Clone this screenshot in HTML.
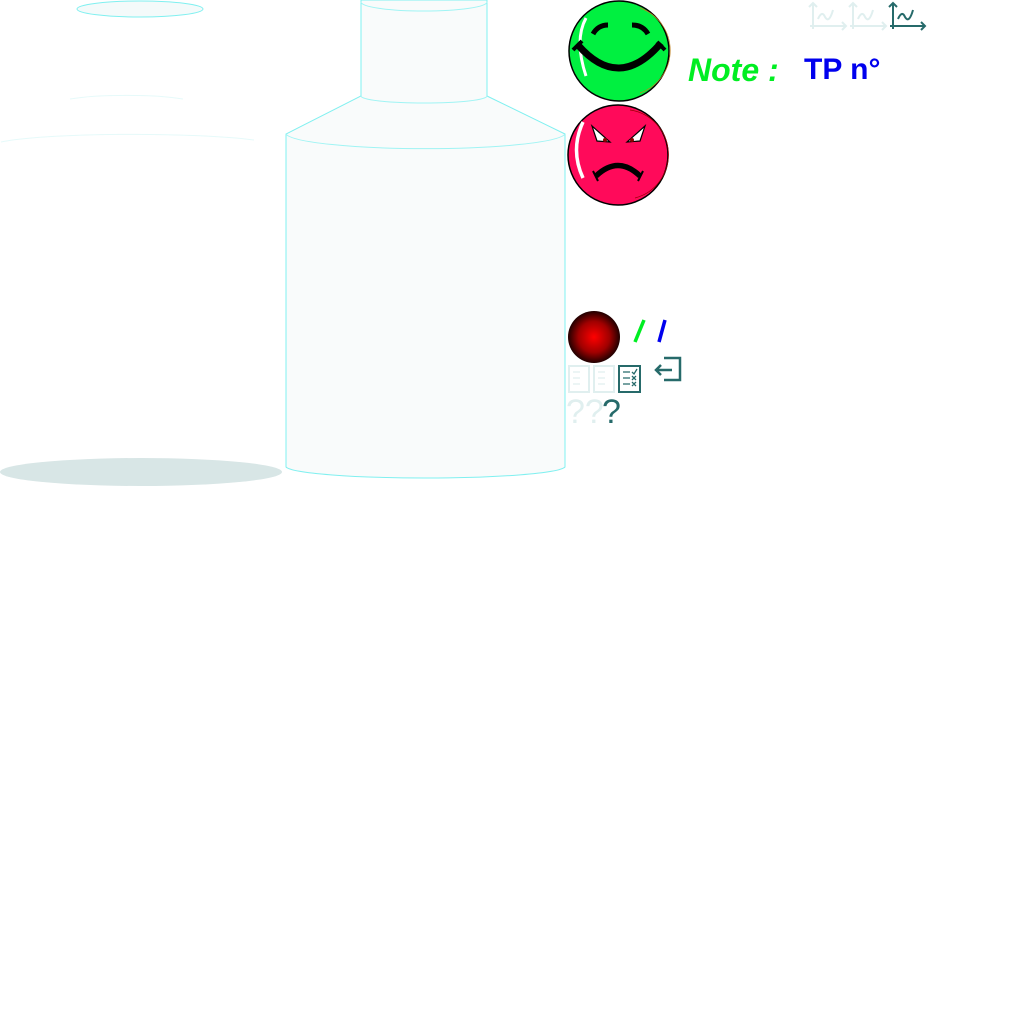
<!DOCTYPE html>
<html><head><meta charset="utf-8"><style>
html,body{margin:0;padding:0;background:#fff;width:1024px;height:1024px;overflow:hidden}
svg{position:absolute;left:0;top:0}
</style></head><body>
<svg width="1024" height="1024" viewBox="0 0 1024 1024" xmlns="http://www.w3.org/2000/svg">
<defs>
<radialGradient id="rb" cx="0.5" cy="0.5" r="0.5">
<stop offset="0" stop-color="#ff0000"/><stop offset="0.6" stop-color="#a00000"/><stop offset="1" stop-color="#200000"/>
</radialGradient>
</defs>
<ellipse cx="140" cy="9" rx="63" ry="8" fill="#f4fafa" stroke="#80f0f0" stroke-width="1"/>
<path d="M70 99 A70 9 0 0 1 183 99" fill="none" stroke="#e6fafa" stroke-width="1"/>
<path d="M1 142 A142 12 0 0 1 254 140" fill="none" stroke="#e6fafa" stroke-width="1"/>
<ellipse cx="141" cy="472" rx="141" ry="14" fill="#d8e6e6"/>
<path d="M361 0 L361 96 L286 134 L286 467 A140 12 0 0 0 565 467 L565 134 L487 96 L487 0 Z" fill="#f9fbfb" stroke="#80f0f0" stroke-width="1"/>
<path d="M361 2 A63 9 0 0 0 487 2" fill="none" stroke="#a0f4f4"/>
<path d="M361 96 A63 7 0 0 0 487 96" fill="none" stroke="#a0f4f4"/>
<path d="M286 134 A140 16 0 0 0 565 134" fill="none" stroke="#a0f4f4"/>
<!-- green smiley -->
<circle cx="619" cy="51" r="50" fill="#00f040" stroke="#000" stroke-width="1.5"/>
<path d="M640 8 A45 45 0 0 1 640 93" fill="none" stroke="#c08020" stroke-width="0.7"/>
<path d="M586 18 Q574 40 586 76" fill="none" stroke="#fff" stroke-width="3"/>
<path d="M578 45 Q619 92 661 43" fill="none" stroke="#000" stroke-width="7"/>
<path d="M573 50 L582 41 M657 42 L665 50" stroke="#000" stroke-width="4"/>
<path d="M593 34 Q598 25 608 25" fill="none" stroke="#000" stroke-width="5"/>
<path d="M632 25 Q643 25 648 34" fill="none" stroke="#000" stroke-width="5"/>
<!-- red smiley -->
<circle cx="618" cy="155" r="50" fill="#ff0a5a" stroke="#000" stroke-width="1.5"/>
<path d="M630 110 A45 45 0 0 1 635 198" fill="none" stroke="#900" stroke-width="0.7"/>
<path d="M583 122 Q570 150 583 178" fill="none" stroke="#fff" stroke-width="3.5"/>
<path d="M592 126 L610 142 L597 141 Z" fill="#fff" stroke="#000" stroke-width="1.2"/>
<path d="M645 126 L627 142 L640 141 Z" fill="#fff" stroke="#000" stroke-width="1.2"/>
<circle cx="605" cy="140" r="2" fill="#800"/><circle cx="632" cy="140" r="2" fill="#800"/>
<path d="M596 176 Q618 155 640 176" fill="none" stroke="#000" stroke-width="5.5"/>
<path d="M593 171 L598 181 M643 171 L638 181" stroke="#000" stroke-width="2"/>
<text x="688" y="81" font-family="Liberation Sans, sans-serif" font-size="32" font-weight="bold" font-style="italic" fill="#00ee22">Note :</text>
<text x="804" y="79" font-family="Liberation Sans, sans-serif" font-size="30" font-weight="bold" fill="#0000ee">TP n°</text>
<g fill="none" stroke-width="2">
<g stroke="#e0efef"><path d="M813 29 V3 M809 7 L813 3 L817 7 M810 26 H846 M842 22 L846 26 L842 30 M818 19 Q822 10 825 17 Q829 24 833 10"/>
<path d="M853 29 V3 M849 7 L853 3 L857 7 M850 26 H886 M882 22 L886 26 L882 30 M858 19 Q862 10 865 17 Q869 24 873 10"/></g>
<g stroke="#266a6a"><path d="M893 29 V3 M889 7 L893 3 L897 7 M890 26 H925 M921 22 L925 26 L921 30 M898 19 Q902 10 905 17 Q909 24 913 10"/></g>
</g>
<circle cx="594" cy="337" r="26" fill="url(#rb)"/>
<path d="M635 342 L644 320" stroke="#00ee22" stroke-width="3.5"/>
<path d="M659 342 L665 320" stroke="#0000ee" stroke-width="3.5"/>
<g fill="none" stroke-width="2">
<g stroke="#e0efef"><rect x="569" y="366" width="20" height="26"/><rect x="594" y="366" width="20" height="26"/>
<path d="M573 372 H580 M573 378 H580 M573 384 H580 M598 372 H605 M598 378 H605 M598 384 H605" stroke-width="1.3"/></g>
<rect x="619" y="366" width="21" height="26" stroke="#266a6a"/>
<path d="M623 372 H630 M623 378 H630 M623 384 H630 M632 372 L634 374 L637 369 M632 376 L636 380 M636 376 L632 380 M632 382 L636 386 M636 382 L632 386" stroke="#266a6a" stroke-width="1.3"/>
<path d="M664 358 H680 V380 H664 M656 370 H672 M661 365 L656 370 L661 375" stroke="#266a6a" stroke-width="2.5"/>
</g>
<text x="566" y="423" font-family="Liberation Sans, sans-serif" font-size="34" fill="#e0efef">??</text>
<text x="602" y="423" font-family="Liberation Sans, sans-serif" font-size="34" fill="#266a6a">?</text>
</svg>
</body></html>
